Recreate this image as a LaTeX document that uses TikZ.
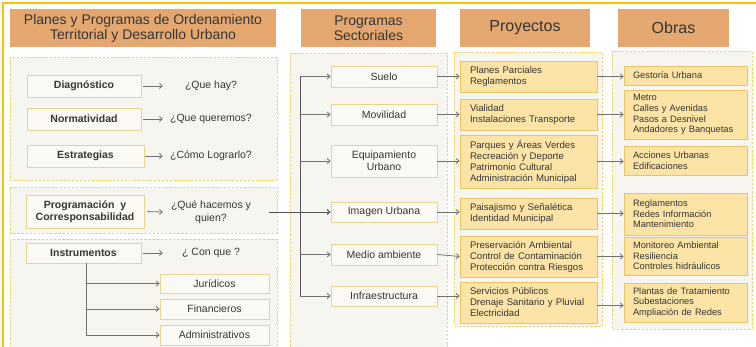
\documentclass[tikz,border=0pt]{standalone}
\usepackage{fontspec}
\setmainfont{Liberation Sans}
\usetikzlibrary{arrows.meta,calc}

\definecolor{framegold}{HTML}{FFC000}
\definecolor{headfill}{HTML}{E3A76F}
\definecolor{panelfill}{HTML}{F6F5F0}
\definecolor{panelline}{HTML}{F1D468}
\definecolor{wfill}{HTML}{FAF9F4}
\definecolor{wline}{HTML}{E7D48E}
\definecolor{yfill}{HTML}{FCE4A7}
\definecolor{yline}{HTML}{E8C462}
\definecolor{txt}{HTML}{363636}
\definecolor{conn}{HTML}{707070}
\definecolor{connd}{HTML}{555555}

\begin{document}
\begin{tikzpicture}[x=1pt,y=-1pt,
  hdr/.style={fill=headfill, draw=none, text=txt, align=center, inner sep=0pt,
    font=\fontsize{14}{15}\selectfont},
  hdrbig/.style={hdr, font=\fontsize{16}{17}\selectfont},
  panel/.style={draw=panelline, fill=panelfill, line width=0.8pt, dash pattern=on 2.5pt off 1.6pt},
  wbox/.style={draw=wline, fill=wfill, line width=0.8pt, text=txt, inner sep=0pt, align=center,
    font=\fontsize{10.5}{12}\selectfont},
  bbox/.style={wbox, font=\fontsize{10.5}{12}\bfseries\selectfont},
  question/.style={text=txt, inner sep=0pt, minimum width=96pt, align=center,
    font=\fontsize{10.5}{13}\selectfont},
  projbox/.style={draw=yline, fill=yfill, line width=0.8pt, text=txt, align=left,
    inner xsep=10pt, inner ysep=0pt, text width=117pt, font=\fontsize{9.6}{11}\selectfont},
  obrabox/.style={projbox, inner xsep=9pt, text width=105pt, font=\fontsize{9.3}{10.6}\selectfont},
  arr/.style={draw=conn, line width=0.8pt, -{Straight Barb[length=2.8pt,width=5pt]}},
  busline/.style={draw=connd, line width=1pt},
]
\useasboundingbox (0,0) rectangle (756,346);
\clip (0,0) rectangle (756,346);
\fill[white] (0,0) rectangle (756,346);

% outer frame
\draw[framegold, line width=2pt] (3,360) -- (3,3) -- (770,3);

% column headers
\node[hdr, minimum width=266pt, minimum height=38pt] (h1) at (143,28)
  {Planes y Programas de Ordenamiento\\Territorial y Desarrollo Urbano};
\node[hdr, minimum width=135pt, minimum height=38pt] (h2) at (368.5,28)
  {Programas\\Sectoriales};
\node[hdrbig, minimum width=130pt, minimum height=38pt] (h3) at (525,28) {Proyectos};
\node[hdrbig, minimum width=111pt, minimum height=38pt] (h4) at (673.5,28) {Obras};

% dashed panels
\draw[panel] (10,57) rectangle (277,180);
\draw[panel] (10,187) rectangle (277,233);
\draw[panel] (10,239) rectangle (277,356);
\draw[panel] (290,53) rectangle (447,356);
\draw[panel] (454,52) rectangle (602,326);
\draw[panel] (612,51) rectangle (752,329);

% planning stages and their questions
\node[bbox, minimum width=114pt, minimum height=22pt] (diag) at (84,86) {Diagnóstico};
\node[bbox, minimum width=114pt, minimum height=22pt] (norm) at (84,119) {Normatividad};
\node[bbox, minimum width=117pt, minimum height=22pt] (estr) at (85.5,156) {Estrategias};
\node[bbox, minimum width=118pt, minimum height=33pt] (prog) at (85,211.5)
  {Programación\ \ y\\Corresponsabilidad};
\node[bbox, minimum width=115pt, minimum height=20pt] (inst) at (83.5,253) {Instrumentos};

\node[question] (q1) at (211,86) {¿Que hay?};
\node[question] (q2) at (211,119) {¿Que queremos?};
\node[question] (q3) at (211,156) {¿Cómo Lograrlo?};
\node[question] (q4) at (211,212) {¿Qué hacemos y\\quien?};
\node[question] (q5) at (211,253) {¿ Con que ?};

\draw[arr, shorten <=2pt] (diag.east) -- (q1.west);
\draw[arr, shorten <=2pt] (norm.east) -- (q2.west);
\draw[arr, shorten <=1pt] (estr.east) -- (q3.west);
\draw[arr, shorten <=3pt] (prog.east) -- (q4.west);
\draw[arr, shorten <=2pt] (inst.east) -- (q5.west);

% instruments
\node[wbox, minimum width=109pt, minimum height=19pt] (jur) at (214.5,283.5) {Jurídicos};
\node[wbox, minimum width=109pt, minimum height=20pt] (fin) at (214.5,309) {Financieros};
\node[wbox, minimum width=109pt, minimum height=20pt] (adm) at (214.5,335) {Administrativos};

\draw[arr] ([xshift=2.5pt]inst.south) |- (jur.west);
\draw[arr] ([xshift=2.5pt]inst.south) |- (fin.west);
\draw[arr] ([xshift=2.5pt]inst.south) |- (adm.west);

% sector programmes
\node[wbox, minimum width=106pt, minimum height=21pt] (suelo) at (384,76.5) {Suelo};
\node[wbox, minimum width=106pt, minimum height=21pt] (movil) at (384,114.5) {Movilidad};
\node[wbox, minimum width=106pt, minimum height=32pt] (equip) at (384,161) {Equipamiento\\Urbano};
\node[wbox, minimum width=106pt, minimum height=20pt] (img) at (384,212) {Imagen Urbana};
\node[wbox, minimum width=106pt, minimum height=21pt] (medio) at (384,254.5) {Medio ambiente};
\node[wbox, minimum width=106pt, minimum height=20pt] (infra) at (384,296) {Infraestructura};

\coordinate (bus) at (300,212);
\draw[busline] (bus |- suelo.west) -- (bus |- infra.west);
\draw[busline, -{Straight Barb[length=2.8pt,width=5pt]}] ([xshift=10pt]q4.east) -- (img.west);
\foreach \s in {suelo,movil,equip,medio,infra}
  \draw[arr] (bus |- \s.west) -- (\s.west);

% projects
\node[projbox, minimum height=31pt] (p1) at (528.5,76.5) {Planes Parciales\\Reglamentos};
\node[projbox, minimum height=31pt] (p2) at (528.5,114.5) {Vialidad\\Instalaciones\ Transporte};
\node[projbox, minimum height=53pt] (p3) at (528.5,161.5)
  {Parques y Áreas Verdes\\Recreación y Deporte\\Patrimonio Cultural\\Administración Municipal};
\node[projbox, minimum height=31pt] (p4) at (528.5,213.5) {Paisajismo y Señalética\\Identidad Municipal};
\node[projbox, minimum height=41pt] (p5) at (528.5,256.5)
  {Preservación Ambiental\\Control de Contaminación\\Protección contra Riesgos};
\node[projbox, minimum height=41pt] (p6) at (528.5,302.5)
  {Servicios Públicos\\Drenaje Sanitario y Pluvial\\Electricidad};

\draw[arr] (suelo.east) -- (suelo.east -| p1.west);
\draw[arr] (movil.east) -- (movil.east -| p2.west);
\draw[arr] (equip.east) -- (equip.east -| p3.west);
\draw[arr] (img.east) -- (img.east -| p4.west);
\draw[arr] (medio.east) -- (p5.west);
\draw[arr] (infra.east) -- (infra.east -| p6.west);

% works
\node[obrabox, minimum height=19pt] (o1) at (685.5,75.5) {Gestoría Urbana};
\node[obrabox, minimum height=49pt] (o2) at (685.5,114.5)
  {Metro\\Calles y Avenidas\\Pasos a Desnivel\\Andadores y Banquetas};
\node[obrabox, minimum height=29pt] (o3) at (685.5,160.5) {Acciones Urbanas\\Edificaciones};
\node[obrabox, minimum height=42pt] (o4) at (685.5,214)
  {Reglamentos\\Redes Información\\Mantenimiento};
\node[obrabox, minimum height=38pt] (o5) at (685.5,256)
  {Monitoreo Ambiental\\Resiliencia\\Controles hidráulicos};
\node[obrabox, minimum height=39pt] (o6) at (685.5,302.5)
  {Plantas de Tratamiento\\Subestaciones\\Ampliación de Redes};

\draw[arr] (p1.east) -- (p1.east -| o1.west);
\draw[arr] (p2.east) -- (p2.east -| o2.west);
\draw[arr] (p3.east) -- (p3.east -| o3.west);
\draw[arr] (p4.east) -- (p4.east -| o4.west);
\draw[arr] (p5.east) -- (p5.east -| o5.west);
\draw[arr] ([yshift=-3pt]p6.east) -- ([yshift=-3pt]p6.east -| o6.west);
\end{tikzpicture}
\end{document}
